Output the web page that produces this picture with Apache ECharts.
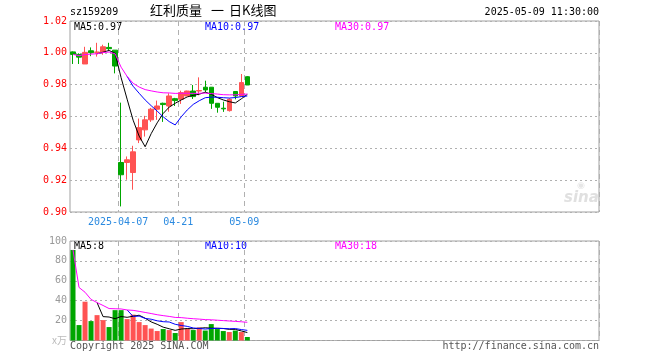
<!DOCTYPE html>
<html><head><meta charset="utf-8">
<script src="https://cdn.jsdelivr.net/npm/echarts@6/dist/echarts.min.js"></script>
<style>html,body{margin:0;padding:0;background:#fff}#c{width:660px;height:360px}</style>
</head><body><div id="c"></div>
<script>
const dates = ['2025-03-25','2025-03-26','2025-03-27','2025-03-28','2025-03-31','2025-04-01','2025-04-02','2025-04-03','2025-04-07','2025-04-08','2025-04-09','2025-04-10','2025-04-11','2025-04-14','2025-04-15','2025-04-16','2025-04-17','2025-04-18','2025-04-21','2025-04-22','2025-04-23','2025-04-24','2025-04-25','2025-04-28','2025-04-29','2025-04-30','2025-05-06','2025-05-07','2025-05-08','2025-05-09'];
const opens  = [1.0006,0.9990,0.9930,1.0013,1.0003,1.0005,1.0034,1.0017,0.9311,0.9311,0.9248,0.9453,0.9516,0.9579,0.9646,0.9683,0.9666,0.9712,0.9708,0.9729,0.9760,0.9760,0.9784,0.9784,0.9683,0.9652,0.9637,0.9757,0.9729,0.9850];
const closes = [0.9990,0.9973,1.0003,1.0001,1.0005,1.0038,1.0026,0.9917,0.9234,0.9328,0.9378,0.9530,0.9579,0.9646,0.9666,0.9675,0.9729,0.9700,0.9750,0.9760,0.9725,0.9763,0.9767,0.9683,0.9658,0.9648,0.9708,0.9729,0.9813,0.9798];
const highs  = [1.0009,0.9997,1.0038,1.0034,1.0063,1.0051,1.0063,1.0017,0.9687,0.9349,0.9416,0.9587,0.9604,0.9654,0.9700,0.9687,0.9746,0.9717,0.9762,0.9762,0.9798,0.9846,0.9825,0.9785,0.9683,0.9693,0.9715,0.9757,0.9867,0.9854];
const lows   = [0.9930,0.9930,0.9930,0.9979,0.9976,0.9988,1.0017,0.9871,0.9035,0.9203,0.9140,0.9433,0.9474,0.9566,0.9579,0.9566,0.9630,0.9666,0.9679,0.9729,0.9710,0.9733,0.9750,0.9648,0.9624,0.9629,0.9631,0.9708,0.9729,0.9798];
const ma5  = ['-','-','-','-',0.9994,1.0004,1.0015,0.9997,0.9844,0.9709,0.9577,0.9477,0.9410,0.9492,0.9560,0.9619,0.9659,0.9683,0.9704,0.9723,0.9733,0.9740,0.9753,0.9740,0.9719,0.9704,0.9693,0.9685,0.9711,0.9739];
const ma10 = ['-','-','-','-','-','-','-','-','-',0.9852,0.9790,0.9746,0.9704,0.9668,0.9634,0.9598,0.9568,0.9547,0.9598,0.9641,0.9676,0.9699,0.9718,0.9722,0.9721,0.9718,0.9716,0.9719,0.9725,0.9729];
const ma30 = [0.9990,0.9982,0.9989,0.9992,0.9994,1.0002,1.0005,0.9994,0.9910,0.9852,0.9809,0.9785,0.9769,0.9761,0.9754,0.9749,0.9748,0.9745,0.9746,0.9746,0.9745,0.9746,0.9747,0.9744,0.9741,0.9737,0.9736,0.9736,0.9739,0.9741];
const volumes = [91,15.5,39,19.5,25.5,20.5,13.5,30.5,30.5,21.5,26,18.5,15.5,12,9.5,11.5,10.5,7.5,18.5,12,10.5,13,10,16.5,11.5,9.5,8.5,10,8.5,3.5];
const volMa5  = ['-','-','-','-',38.1,24,23.6,21.9,24.1,23.3,24.4,25.4,22.4,18.7,16.3,13.4,11.8,10.2,11.5,12,11.8,12.3,12.8,12.4,12.3,12.1,11.2,11.2,9.6,8];
const volMa10 = ['-','-','-','-','-','-','-','-','-',30.7,24.2,24.5,22.2,21.4,19.8,18.9,18.6,16.3,15.1,14.2,12.6,12.1,11.5,12,12.2,12,11.8,12,11,10.2];
const volMa30 = [91,53.3,48.5,41.3,38.1,35.2,32.1,31.9,31.7,30.7,30.3,29.3,28.2,27.1,25.9,25,24.2,23.2,23,22.4,21.9,21.5,21,20.8,20.4,20,19.6,19.2,18.8,18.3];
const tickDates  = ['2025-04-07','2025-04-21','2025-05-09'];
const tickLabels = ['2025-04-07','04-21','05-09'];
const priceLegend = ['MA5:0.97','MA10:0.97','MA30:0.97'];
const volLegend = ['MA5:8','MA10:10','MA30:18'];
const titleParts = ['红利质量', '一', '日K线图'];
const SLOTS = 88;

const RED = '#ff5353', GREEN = '#00a600';
const cats = dates.slice();
for (let i = dates.length; i < SLOTS; i++) cats.push('_' + i);
const tickIdx = tickDates.map(d => dates.indexOf(d));
const candle = dates.map((d, i) => [opens[i], closes[i], lows[i], highs[i]]);
const volData = volumes.map((v, i) => ({value: v, itemStyle: {color: closes[i] >= opens[i] ? RED : GREEN}}));
const MONO = 'DejaVu Sans Mono';
const CJK = '"Noto Sans CJK SC"';

const chart = echarts.init(document.getElementById('c'), null, {renderer: 'canvas'});
const xCommon = (gi, showLabel) => ({
  type: 'category', gridIndex: gi, data: cats, boundaryGap: true,
  axisLine: {show: false}, axisTick: {show: false},
  axisLabel: showLabel ? {
    show: true, interval: (i) => tickIdx.includes(i),
    formatter: (v, i) => { const k = tickDates.indexOf(v); return k >= 0 ? tickLabels[k] : ''; },
    color: '#2b8ae0', fontFamily: MONO, fontSize: 10, margin: 5, padding: [0, 6, 0, 0]
  } : {show: false},
  splitLine: {show: true, interval: (i) => tickIdx.includes(i), lineStyle: {color: '#b0b0b0', type: [5, 4], width: 1}}
});
chart.setOption({
  animation: false,
  grid: [
    {left: 70, top: 21, width: 529, height: 191, show: true, borderColor: '#a0a0a0', borderWidth: 1, backgroundColor: 'transparent'},
    {left: 70, top: 241, width: 529, height: 99.5, show: true, borderColor: '#a0a0a0', borderWidth: 1, backgroundColor: 'transparent'}
  ],
  xAxis: [xCommon(0, true), xCommon(1, false)],
  yAxis: [
    {type: 'value', gridIndex: 0, min: 0.90, max: 1.02, interval: 0.02,
     axisLine: {show: false}, axisTick: {show: false},
     axisLabel: {color: '#ff0000', fontFamily: MONO, fontSize: 10, margin: 3, formatter: v => v.toFixed(2)},
     splitLine: {show: true, lineStyle: {color: '#b0b0b0', type: [2, 3]}}},
    {type: 'value', gridIndex: 1, min: 0, max: 100, interval: 20,
     axisLine: {show: false}, axisTick: {show: false},
     axisLabel: {color: '#999', fontFamily: MONO, fontSize: 10, margin: 3,
       formatter: v => v === 0 ? '{u|x万}' : String(v), rich: {u: {color: '#bbb', fontSize: 10, fontFamily: 'Noto Sans CJK SC'}}},
     splitLine: {show: true, lineStyle: {color: '#b0b0b0', type: [2, 3]}}}
  ],
  series: [
    {type: 'candlestick', xAxisIndex: 0, yAxisIndex: 0, data: candle, barWidth: 5,
     itemStyle: {color: RED, color0: GREEN, borderColor: RED, borderColor0: GREEN, borderWidth: 1}},
    {type: 'line', xAxisIndex: 0, yAxisIndex: 0, data: ma5, showSymbol: false, lineStyle: {color: '#000', width: 1}, z: 5},
    {type: 'line', xAxisIndex: 0, yAxisIndex: 0, data: ma10, showSymbol: false, lineStyle: {color: '#0000ff', width: 1}, z: 5},
    {type: 'line', xAxisIndex: 0, yAxisIndex: 0, data: ma30, showSymbol: false, lineStyle: {color: '#ff00ff', width: 1}, z: 5},
    {type: 'bar', xAxisIndex: 1, yAxisIndex: 1, data: volData, barWidth: 5},
    {type: 'line', xAxisIndex: 1, yAxisIndex: 1, data: volMa5, showSymbol: false, lineStyle: {color: '#000', width: 1}, z: 5},
    {type: 'line', xAxisIndex: 1, yAxisIndex: 1, data: volMa10, showSymbol: false, lineStyle: {color: '#0000ff', width: 1}, z: 5},
    {type: 'line', xAxisIndex: 1, yAxisIndex: 1, data: volMa30, showSymbol: false, lineStyle: {color: '#ff00ff', width: 1}, z: 5}
  ],
  graphic: [
    {type: 'text', left: 70, top: 7, style: {text: 'sz159209', font: '10px ' + MONO, fill: '#000'}},
    {type: 'text', left: 150, top: 4, style: {text: titleParts[0], font: '13px ' + CJK, fill: '#000'}},
    {type: 'text', left: 211, top: 4, style: {text: titleParts[1], font: '13px ' + CJK, fill: '#000'}},
    {type: 'text', left: 229, top: 4, style: {text: titleParts[2], font: '13px ' + CJK, fill: '#000'}},
    {type: 'text', right: 61, top: 7, style: {text: '2025-05-09 11:30:00', font: '10px ' + MONO, fill: '#000'}},
    {type: 'text', left: 74, top: 22, style: {text: priceLegend[0], font: '10px ' + MONO, fill: '#000'}},
    {type: 'text', left: 205, top: 22, style: {text: priceLegend[1], font: '10px ' + MONO, fill: '#0000ff'}},
    {type: 'text', left: 335, top: 22, style: {text: priceLegend[2], font: '10px ' + MONO, fill: '#ff00ff'}},
    {type: 'text', left: 74, top: 241, style: {text: volLegend[0], font: '10px ' + MONO, fill: '#000'}},
    {type: 'text', left: 205, top: 241, style: {text: volLegend[1], font: '10px ' + MONO, fill: '#0000ff'}},
    {type: 'text', left: 335, top: 241, style: {text: volLegend[2], font: '10px ' + MONO, fill: '#ff00ff'}},
    {type: 'text', left: 70, top: 341, style: {text: 'Copyright 2025 SINA.COM', font: '10px ' + MONO, fill: '#555'}},
    {type: 'text', right: 61, top: 341, style: {text: 'http://finance.sina.com.cn', font: '10px ' + MONO, fill: '#555'}},
    {type: 'text', left: 564, top: 191, style: {text: 'sina', font: 'italic bold 15px "DejaVu Sans"', fill: '#e0e0e0'}},
    {type: 'text', left: 577, top: 181, style: {text: '◉', font: '9px "DejaVu Sans"', fill: '#e6e6e6'}}
  ]
});
</script></body></html>
